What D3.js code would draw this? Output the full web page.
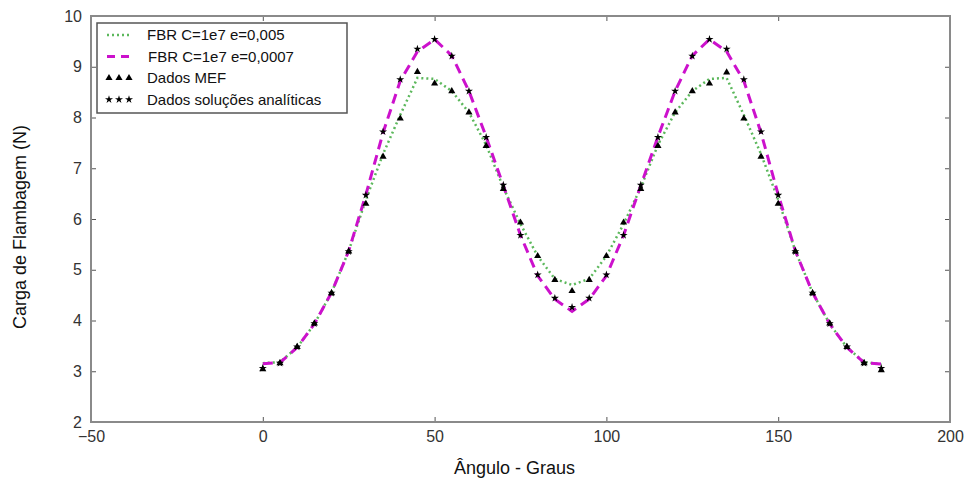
<!DOCTYPE html>
<meta charset="utf-8">
<script src="https://d3js.org/d3.v7.min.js"></script>
<style>
  body { margin: 0; background: #fff; }
  text { font-family: "Liberation Sans", Arial, sans-serif; }
</style>
<body>
<div id="chart"></div>
<script>
// angles (degrees)
var angles = [0, 5, 10, 15, 20, 25, 30, 35, 40, 45, 50, 55, 60, 65, 70, 75, 80, 85, 90,
              95, 100, 105, 110, 115, 120, 125, 130, 135, 140, 145, 150, 155, 160, 165, 170, 175, 180];

// FBR C=1e7 e=0,005 (green dotted)
var fbr005 = [3.16, 3.18, 3.47, 3.93, 4.55, 5.37, 6.38, 7.28, 8.05, 8.78, 8.76, 8.52, 8.10, 7.46, 6.62, 5.90, 5.27, 4.82, 4.70,
              4.82, 5.27, 5.90, 6.62, 7.46, 8.10, 8.52, 8.76, 8.78, 8.05, 7.28, 6.38, 5.37, 4.55, 3.93, 3.47, 3.18, 3.14];

// FBR C=1e7 e=0,0007 (magenta dashed)
var fbr0007 = [3.15, 3.17, 3.47, 3.93, 4.55, 5.37, 6.48, 7.70, 8.72, 9.30, 9.54, 9.22, 8.52, 7.62, 6.66, 5.68, 4.88, 4.42, 4.18,
               4.42, 4.88, 5.68, 6.66, 7.62, 8.52, 9.22, 9.54, 9.30, 8.72, 7.70, 6.48, 5.37, 4.55, 3.93, 3.47, 3.17, 3.14];

// Dados MEF (triangles)
var mef = [3.04, 3.16, 3.48, 3.94, 4.54, 5.36, 6.30, 7.23, 7.98, 8.90, 8.67, 8.52, 8.10, 7.44, 6.59, 5.93, 5.27, 4.80, 4.58,
           4.80, 5.27, 5.93, 6.59, 7.44, 8.10, 8.52, 8.67, 8.89, 7.98, 7.23, 6.30, 5.36, 4.54, 3.94, 3.48, 3.16, 3.02];

// Dados soluções analíticas (stars)
var analit = [3.06, 3.16, 3.48, 3.94, 4.54, 5.36, 6.47, 7.72, 8.75, 9.35, 9.54, 9.21, 8.52, 7.61, 6.67, 5.68, 4.90, 4.44, 4.26,
              4.44, 4.90, 5.68, 6.67, 7.61, 8.52, 9.21, 9.54, 9.35, 8.75, 7.72, 6.47, 5.36, 4.54, 3.94, 3.48, 3.16, 3.06];

var xTicks = [-50, 0, 50, 100, 150, 200];
var yTicks = [2, 3, 4, 5, 6, 7, 8, 9, 10];

var W = 967, H = 481;
var margin = {top: 16, right: 17, bottom: 59, left: 91},
    width = W - margin.left - margin.right,
    height = H - margin.top - margin.bottom;

var svg = d3.select("#chart").append("svg")
    .attr("width", W)
    .attr("height", H);

var g = svg.append("g")
    .attr("transform", "translate(" + margin.left + "," + margin.top + ")");

var x = d3.scaleLinear().domain([-50, 200]).range([0, width]);
var y = d3.scaleLinear().domain([2, 10]).range([height, 0]);

// axes (ticks inside, like matplotlib classic)
function styleAxis(sel) {
  sel.select(".domain").remove();
  sel.selectAll(".tick line").attr("stroke", "#555").attr("stroke-width", 1);
  sel.selectAll(".tick text").attr("fill", "#333").style("font-size", "16px");
}

g.append("g")
  .attr("transform", "translate(0," + height + ")")
  .call(d3.axisBottom(x).tickValues(xTicks).tickSizeInner(-5).tickSizeOuter(0).tickPadding(9)
        .tickFormat(function(d) { return d < 0 ? "\u2212" + Math.abs(d) : d; }))
  .call(styleAxis);

g.append("g")
  .call(d3.axisTop(x).tickValues(xTicks).tickSizeInner(-5).tickSizeOuter(0).tickFormat(""))
  .call(styleAxis);

g.append("g")
  .call(d3.axisLeft(y).tickValues(yTicks).tickSizeInner(-5).tickSizeOuter(0).tickPadding(9))
  .call(styleAxis);

g.append("g")
  .attr("transform", "translate(" + width + ",0)")
  .call(d3.axisRight(y).tickValues(yTicks).tickSizeInner(-5).tickSizeOuter(0).tickFormat(""))
  .call(styleAxis);

// frame
g.append("rect")
  .attr("width", width)
  .attr("height", height)
  .attr("fill", "none")
  .attr("stroke", "#8a8a8a")
  .attr("stroke-width", 2);

var green = "#5cb85c", magenta = "#cc11cc";

var line = function(vals) {
  return d3.line()
    .x(function(d, i) { return x(angles[i]); })
    .y(function(d) { return y(d); })(vals);
};

g.append("path")
  .attr("d", line(fbr005))
  .attr("fill", "none")
  .attr("stroke", green)
  .attr("stroke-width", 2.5)
  .attr("stroke-dasharray", "2,3");

g.append("path")
  .attr("d", line(fbr0007))
  .attr("fill", "none")
  .attr("stroke", magenta)
  .attr("stroke-width", 3)
  .attr("stroke-dasharray", "10,6");

var tri = d3.symbol().type(d3.symbolTriangle).size(22);
var star = d3.symbol().type(d3.symbolStar).size(20);

g.selectAll(".tri")
  .data(mef)
  .enter().append("path")
  .attr("class", "tri")
  .attr("d", tri)
  .attr("transform", function(d, i) { return "translate(" + x(angles[i]) + "," + y(d) + ")"; })
  .attr("fill", "#000");

g.selectAll(".star")
  .data(analit)
  .enter().append("path")
  .attr("class", "star")
  .attr("d", star)
  .attr("transform", function(d, i) { return "translate(" + x(angles[i]) + "," + y(d) + ")"; })
  .attr("fill", "#000");

// legend
var leg = svg.append("g").attr("transform", "translate(97,23)");
leg.append("rect")
  .attr("width", 250).attr("height", 90)
  .attr("fill", "#fff").attr("stroke", "#555").attr("stroke-width", 1.5);

var legItems = [
  {label: "FBR C=1e7 e=0,005", type: "green", dx: 50},
  {label: "FBR C=1e7 e=0,0007", type: "magenta", dx: 51},
  {label: "Dados MEF", type: "tri", dx: 50},
  {label: "Dados soluções analíticas", type: "star", dx: 50}
];

legItems.forEach(function(it, i) {
  var cy = 12 + i * 21.5;
  if (it.type == "green") {
    leg.append("line").attr("x1", 10).attr("x2", 33).attr("y1", cy).attr("y2", cy)
      .attr("stroke", green).attr("stroke-width", 2.5).attr("stroke-dasharray", "2,3");
  } else if (it.type == "magenta") {
    leg.append("line").attr("x1", 10).attr("x2", 33).attr("y1", cy).attr("y2", cy)
      .attr("stroke", magenta).attr("stroke-width", 3).attr("stroke-dasharray", "8,6");
  } else {
    [12, 22, 32].forEach(function(px) {
      leg.append("path")
        .attr("d", it.type == "tri" ? tri() : star())
        .attr("transform", "translate(" + px + "," + cy + ")")
        .attr("fill", "#000");
    });
  }
  leg.append("text")
    .attr("x", it.dx).attr("y", cy)
    .attr("dy", "0.35em")
    .style("font-size", "15px")
    .attr("fill", "#111")
    .text(it.label);
});

// axis titles
svg.append("text")
  .attr("x", margin.left + width / 2 - 6)
  .attr("y", 474)
  .attr("text-anchor", "middle")
  .style("font-size", "18px")
  .attr("fill", "#111")
  .text("Ângulo - Graus");

svg.append("text")
  .attr("transform", "translate(26," + (margin.top + height / 2 + 8) + ") rotate(-90)")
  .attr("text-anchor", "middle")
  .style("font-size", "18px")
  .attr("fill", "#111")
  .text("Carga de Flambagem (N)");
</script>
</body>
